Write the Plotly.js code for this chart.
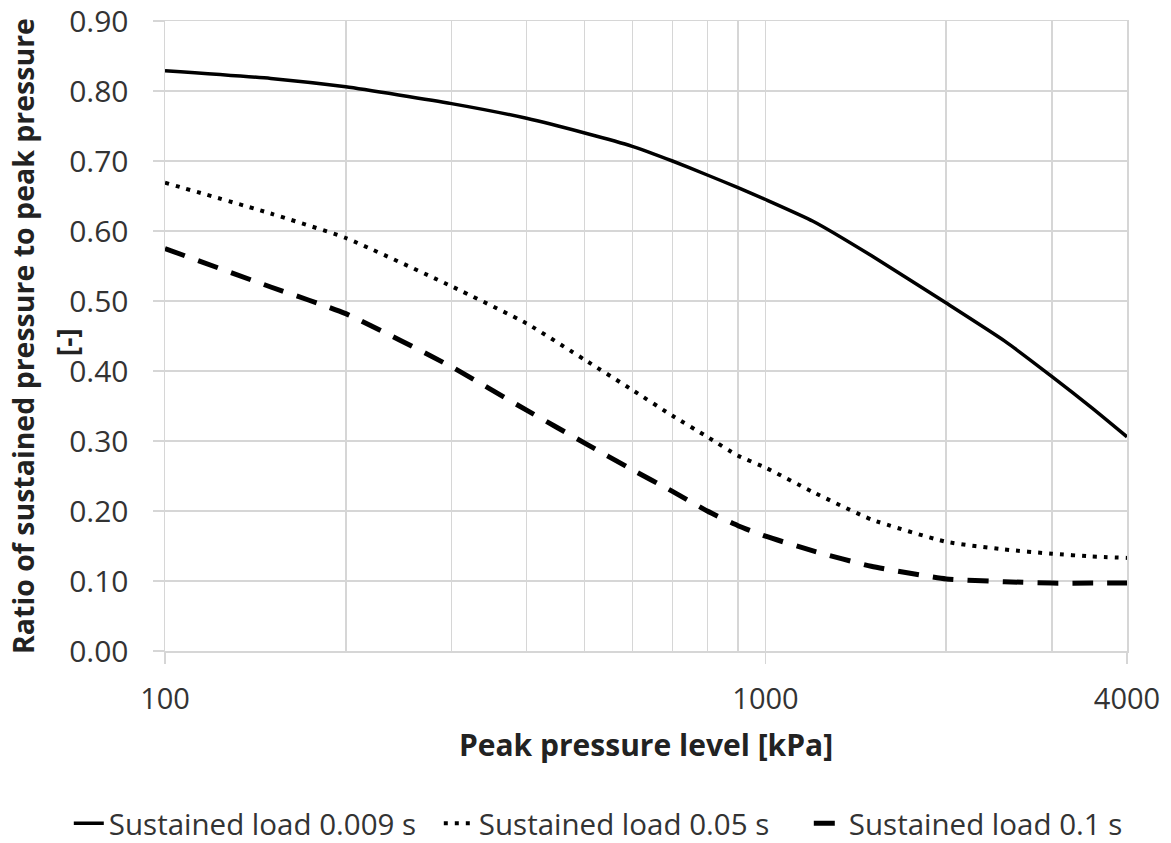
<!DOCTYPE html>
<html>
<head>
<meta charset="utf-8">
<script src="https://cdn.plot.ly/plotly-3.0.1.min.js"></script>
<style>
html,body{margin:0;padding:0;background:#fff;}
#chart{width:1171px;height:843px;}
</style>
</head>
<body>
<div id="chart"></div>
<script>
// Peak pressure level [kPa]
const pressure = [100, 150, 200, 300, 400, 500, 600, 700, 800, 900, 1000, 1200, 1500, 2000, 2500, 3000, 3500, 4000];
// Ratio of sustained pressure to peak pressure
const load0009 = [0.829, 0.818, 0.806, 0.782, 0.761, 0.740, 0.721, 0.700, 0.680, 0.662, 0.645, 0.614, 0.565, 0.497, 0.443, 0.392, 0.347, 0.306];
const load005  = [0.669, 0.625, 0.590, 0.521, 0.468, 0.416, 0.373, 0.336, 0.306, 0.279, 0.262, 0.227, 0.188, 0.156, 0.145, 0.139, 0.135, 0.133];
const load01   = [0.575, 0.520, 0.482, 0.406, 0.344, 0.297, 0.259, 0.228, 0.200, 0.179, 0.164, 0.143, 0.121, 0.103, 0.099, 0.097, 0.097, 0.097];
const seriesNames = ["Sustained load 0.009 s", "Sustained load 0.05 s", "Sustained load 0.1 s"];
const xTickVals = [100, 1000, 4000];
const xTickText = ["100", "1000", "4000"];
const yTickVals = [0, 0.1, 0.2, 0.3, 0.4, 0.5, 0.6, 0.7, 0.8, 0.9];

const FONT = "'Open Sans', 'DejaVu Sans', sans-serif";
const GRID = "#d6d6d6";

const traces = [
  {x: pressure, y: load0009, name: seriesNames[0], mode: "lines",
   line: {color: "#000", width: 3.5, shape: "spline", smoothing: 0.5}},
  {x: pressure, y: load005, name: seriesNames[1], mode: "lines",
   line: {color: "#000", width: 4, dash: "4px,7px", shape: "spline", smoothing: 0.5}},
  {x: pressure, y: load01, name: seriesNames[2], mode: "lines",
   line: {color: "#000", width: 5, dash: "21px,14px", shape: "spline", smoothing: 0.5}}
];

const layout = {
  width: 1171, height: 843,
  margin: {l: 165, r: 44, t: 21, b: 192, autoexpand: false},
  paper_bgcolor: "#fff", plot_bgcolor: "#fff",
  font: {family: FONT, color: "#333"},
  showlegend: true,
  legend: {
    orientation: "h", x: -0.1, xanchor: "left", y: -0.274, yanchor: "middle",
    font: {family: FONT, size: 29.5, color: "#333"},
    itemwidth: 30, tracegroupgap: 0, entrywidth: 325
  },
  xaxis: {
    type: "log", range: [2, Math.log10(4000)], automargin: false,
    tickmode: "array", tickvals: xTickVals, ticktext: xTickText,
    ticks: "outside", ticklen: 11, tickcolor: GRID, tickwidth: 1.5,
    ticklabelstandoff: 11, ticklabeloverflow: "allow",
    tickfont: {family: FONT, size: 29, color: "#333"},
    showgrid: true, gridcolor: GRID, gridwidth: 1.5,
    minor: {dtick: "D1", showgrid: true, gridcolor: GRID, gridwidth: 1.5, ticks: ""},
    showline: true, linecolor: GRID, linewidth: 1.5, mirror: true,
    zeroline: false,
    title: {text: "Peak pressure level [kPa]", standoff: 18,
            font: {family: FONT, size: 30, color: "#222", weight: "bold"}}
  },
  yaxis: {
    range: [0, 0.9], tickmode: "array", tickvals: yTickVals, tickformat: ".2f", automargin: false,
    ticks: "outside", ticklen: 11, tickcolor: GRID, tickwidth: 1.5,
    ticklabelstandoff: 18, ticklabeloverflow: "allow",
    tickfont: {family: FONT, size: 30, color: "#333"},
    showgrid: true, gridcolor: GRID, gridwidth: 1.5,
    showline: true, linecolor: GRID, linewidth: 1.5, mirror: true,
    zeroline: false,
    title: {text: "Ratio of sustained pressure to peak pressure", standoff: 26,
            font: {family: FONT, size: 28.5, color: "#222", weight: "bold"}}
  },
  annotations: [
    {text: "[-]", xref: "paper", yref: "paper", x: 0, y: 0.49, xshift: -98,
     textangle: -90, showarrow: false, xanchor: "center", yanchor: "middle",
     font: {family: FONT, size: 28.5, color: "#222", weight: "bold"}}
  ]
};

Plotly.newPlot("chart", traces, layout, {displayModeBar: false, staticPlot: true});
</script>
</body>
</html>
